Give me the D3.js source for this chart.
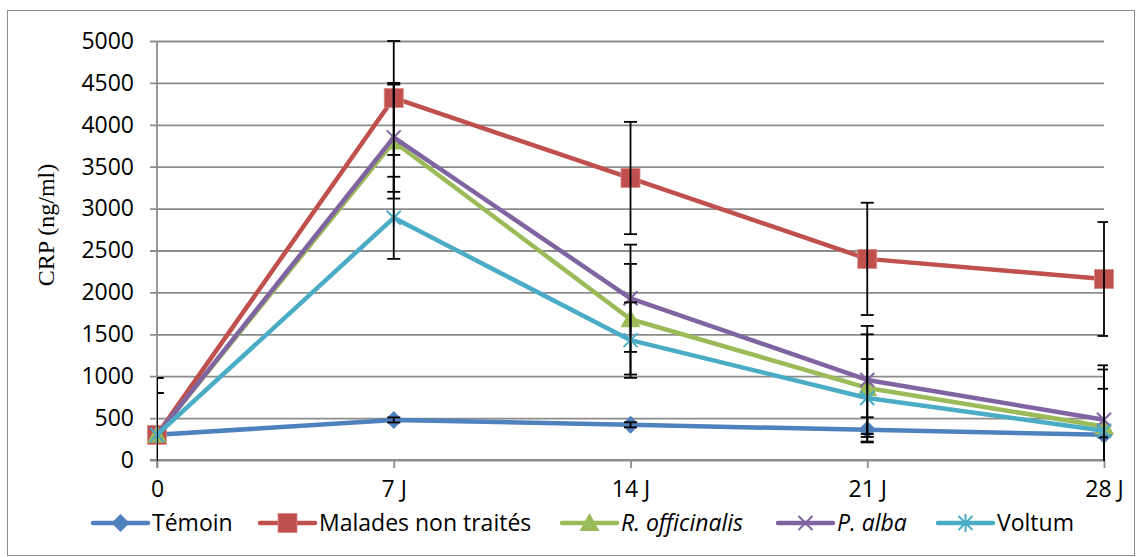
<!DOCTYPE html>
<html><head><meta charset="utf-8">
<script src="https://cdn.jsdelivr.net/npm/d3@7"></script>
<style>body{margin:0;background:#fff}svg{display:block}</style>
</head><body>
<script>
const categories = ["0", "7 J", "14 J", "21 J", "28 J"];
const yTicks = [0, 500, 1000, 1500, 2000, 2500, 3000, 3500, 4000, 4500, 5000];
const seriesNames = ["Témoin", "Malades non traités", "R. officinalis", "P. alba", "Voltum"];
const temoin = [300, 478, 420, 360, 300];
const malades = [300, 4320, 3365, 2400, 2160];
const rOfficinalis = [300, 3800, 1680, 860, 400];
const pAlba = [300, 3850, 1930, 955, 480];
const voltum = [300, 2890, 1430, 740, 350];
const temoinErr = [680, 30, 30, 150, 30];
const maladesErr = [680, 680, 670, 670, 680];
const rOfficinalisErr = [500, 680, 660, 640, 680];
const pAlbaErr = [500, 650, 640, 645, 650];
const voltumErr = [500, 490, 450, 465, 500];

const W = 1141, H = 557;
const colors = ["#4F81BD", "#C0504D", "#9BBB59", "#8064A2", "#4BACC6"];
const markers = ["diamond", "square", "triangle", "x", "star"];
const italic = [false, false, true, true, false];
const values = [temoin, malades, rOfficinalis, pAlba, voltum];
const errs = [temoinErr, maladesErr, rOfficinalisErr, pAlbaErr, voltumErr];

const svg = d3.select("body").append("svg").attr("width", W).attr("height", H);
svg.append("rect").attr("x", 7.5).attr("y", 10.5).attr("width", 1127).attr("height", 545)
  .attr("fill", "none").attr("stroke", "#8c8c8c").attr("stroke-width", 1);

const x = d3.scalePoint().domain(categories).range([157, 1104]);
const y = d3.scaleLinear().domain([0, 5000]).range([460, 41]);
const font = "'Open Sans', sans-serif";
const fs = 23;

// gridlines
const gy = svg.append("g").attr("transform", "translate(1104,0)");
gy.call(d3.axisLeft(y).tickValues(yTicks).tickSize(1104 - 150).tickFormat(""));
gy.select(".domain").remove();
gy.selectAll(".tick line").attr("stroke", "#8c8c8c").attr("stroke-width", 1.8);

// y tick labels
const gl = svg.append("g").attr("transform", "translate(150,0)");
gl.call(d3.axisLeft(y).tickValues(yTicks).tickSize(0).tickPadding(16).tickFormat(d3.format("d")));
gl.select(".domain").remove();
gl.selectAll(".tick text").attr("font-family", font).attr("font-size", fs).attr("fill", "#000");

// x axis
const gx = svg.append("g").attr("transform", "translate(0,460)");
gx.call(d3.axisBottom(x).tickSize(8).tickPadding(13));
gx.select(".domain").attr("stroke", "#8c8c8c").attr("stroke-width", 1.8).attr("d", "M150,0H1104");
gx.selectAll(".tick line").attr("stroke", "#8c8c8c").attr("stroke-width", 1.8);
gx.selectAll(".tick text").attr("font-family", font).attr("font-size", fs).attr("fill", "#000");

// y axis line
svg.append("line").attr("x1", 157).attr("x2", 157).attr("y1", 41).attr("y2", 468)
  .attr("stroke", "#8c8c8c").attr("stroke-width", 1.8);

// y title
svg.append("text").attr("transform", "translate(54,225) rotate(-90)")
  .attr("text-anchor", "middle").attr("font-family", "'Liberation Serif', serif")
  .attr("font-size", 24).text("CRP (ng/ml)");

svg.append("defs").append("clipPath").attr("id", "clip")
  .append("rect").attr("x", 157).attr("y", 34).attr("width", 951).attr("height", 427);

function drawMarker(g, type, color, cx, cy) {
  if (type === "diamond") {
    g.append("path").attr("d", `M${cx},${cy-9}L${cx+9},${cy}L${cx},${cy+9}L${cx-9},${cy}Z`).attr("fill", color);
  } else if (type === "square") {
    g.append("rect").attr("x", cx - 9.5).attr("y", cy - 9.5).attr("width", 19).attr("height", 19)
      .attr("fill", color).attr("stroke", "#d98a88").attr("stroke-width", 0.8);
  } else if (type === "triangle") {
    g.append("path").attr("d", `M${cx},${cy-10}L${cx+10},${cy+8}L${cx-10},${cy+8}Z`).attr("fill", color);
  } else if (type === "x") {
    g.append("path").attr("d", `M${cx-7},${cy-7}L${cx+7},${cy+7}M${cx+7},${cy-7}L${cx-7},${cy+7}`)
      .attr("stroke", color).attr("stroke-width", 2).attr("fill", "none");
  } else if (type === "star") {
    g.append("path").attr("d", `M${cx-7},${cy-7}L${cx+7},${cy+7}M${cx+7},${cy-7}L${cx-7},${cy+7}M${cx},${cy-9}L${cx},${cy+9}`)
      .attr("stroke", color).attr("stroke-width", 2).attr("fill", "none");
  }
}

const line = d3.line().x((d, i) => x(categories[i])).y(d => y(d));
const plot = svg.append("g");
values.forEach((vals, si) => {
  const g = plot.append("g");
  g.append("path").datum(vals).attr("d", line).attr("fill", "none")
    .attr("stroke", colors[si]).attr("stroke-width", 4.5).attr("stroke-linejoin", "round");
  vals.forEach((v, i) => drawMarker(g, markers[si], colors[si], x(categories[i]), y(v)));
  const eg = g.append("g").attr("clip-path", "url(#clip)");
  vals.forEach((v, i) => {
    const cx = x(categories[i]);
    const e = errs[si][i];
    const y1 = y(v + e), y2 = y(v - e);
    eg.append("line").attr("x1", cx).attr("x2", cx).attr("y1", y1).attr("y2", y2)
      .attr("stroke", "#000").attr("stroke-width", 1.8);
    [y1, y2].forEach(yy => eg.append("line").attr("x1", cx - 6.5).attr("x2", cx + 6.5)
      .attr("y1", yy).attr("y2", yy).attr("stroke", "#000").attr("stroke-width", 1.8));
  });
});

// legend
const legendX = [93, 260, 562, 778, 938];
const ly = 523;
seriesNames.forEach((name, i) => {
  const g = svg.append("g");
  const x0 = legendX[i];
  g.append("line").attr("x1", x0).attr("x2", x0 + 55).attr("y1", ly).attr("y2", ly)
    .attr("stroke", colors[i]).attr("stroke-width", 4.5).attr("stroke-linecap", "round");
  drawMarker(g, markers[i], colors[i], x0 + 27.5, ly);
  g.append("text").attr("x", x0 + 59).attr("y", ly + 8).attr("font-family", font)
    .attr("font-size", fs).attr("font-style", italic[i] ? "italic" : "normal").text(name);
});
</script>
</body></html>
